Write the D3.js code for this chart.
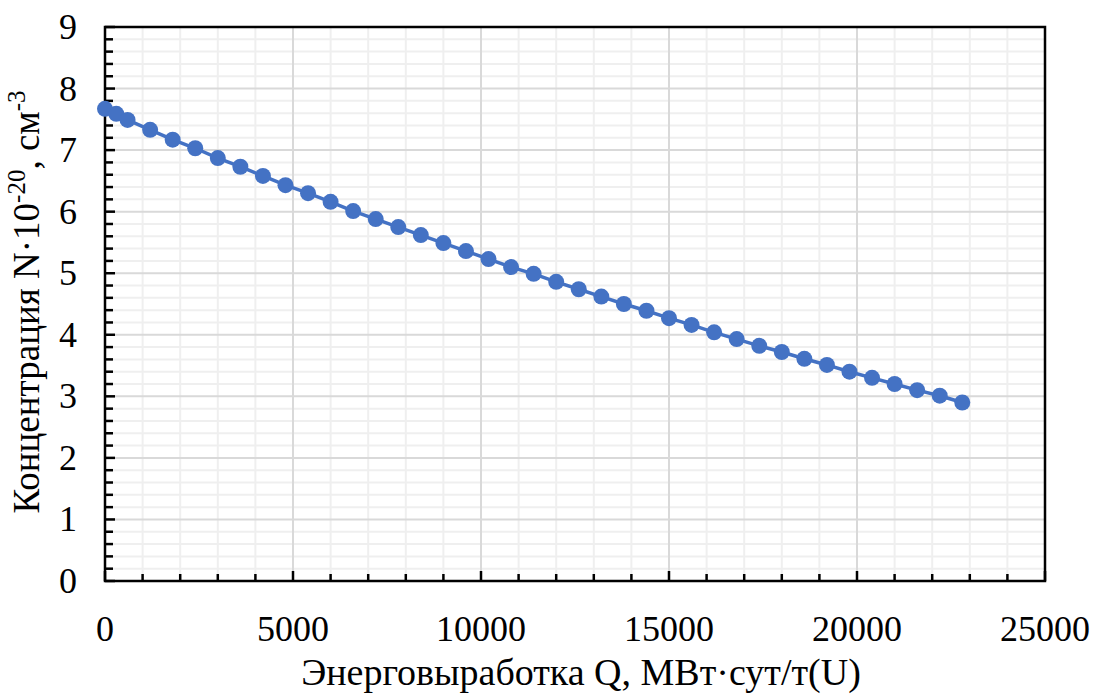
<!DOCTYPE html>
<html><head><meta charset="utf-8">
<script src="https://cdn.jsdelivr.net/npm/d3@7"></script>
<style>body{margin:0;background:#fff}svg{display:block}</style>
</head><body><svg id="c" width="1093" height="695"></svg>
<script>
const qValues = [0,300,600,1200,1800,2400,3000,3600,4200,4800,5400,6000,6600,7200,7800,8400,9000,9600,10200,10800,11400,12000,12600,13200,13800,14400,15000,15600,16200,16800,17400,18000,18600,19200,19800,20400,21000,21600,22200,22800];
const nValues = [7.67,7.59,7.49,7.33,7.17,7.03,6.87,6.73,6.58,6.43,6.30,6.16,6.01,5.88,5.75,5.62,5.49,5.36,5.23,5.10,4.99,4.86,4.74,4.62,4.50,4.39,4.27,4.16,4.04,3.93,3.82,3.72,3.61,3.51,3.40,3.30,3.20,3.10,3.01,2.90];
const xTicks = [0,5000,10000,15000,20000,25000];
const yTicks = [0,1,2,3,4,5,6,7,8,9];
const xTitle = "Энерговыработка Q, МВт·сут/т(U)";

const svg = d3.select("#c");
const L=105,R=1045,T=27,B=581;
const x = d3.scaleLinear().domain([0,25000]).range([L,R]);
const y = d3.scaleLinear().domain([0,9]).range([B,T]);
const xMinor = d3.range(0,25001,1000).filter(v=>v%5000!==0);
const yMinor = d3.range(0,45).map(i=>i*0.2).filter((v,i)=>i%5!==0);

const g = svg.append("g");
g.selectAll(".xm").data(xMinor).join("line").attr("x1",d=>x(d)).attr("x2",d=>x(d)).attr("y1",T).attr("y2",B).attr("stroke","#efefef").attr("stroke-width",2);
g.selectAll(".ym").data(yMinor).join("line").attr("y1",d=>y(d)).attr("y2",d=>y(d)).attr("x1",L).attr("x2",R).attr("stroke","#efefef").attr("stroke-width",2);
g.selectAll(".xM").data(xTicks).join("line").attr("x1",d=>x(d)).attr("x2",d=>x(d)).attr("y1",T).attr("y2",B).attr("stroke","#d9d9d9").attr("stroke-width",2);
g.selectAll(".yM").data(yTicks).join("line").attr("y1",d=>y(d)).attr("y2",d=>y(d)).attr("x1",L).attr("x2",R).attr("stroke","#d9d9d9").attr("stroke-width",2);

const tk = svg.append("g").attr("stroke","#000").attr("stroke-width",2.5);
tk.selectAll(".a").data(xMinor).join("line").attr("x1",d=>x(d)).attr("x2",d=>x(d)).attr("y1",B).attr("y2",B-7);
tk.selectAll(".b").data(xTicks).join("line").attr("x1",d=>x(d)).attr("x2",d=>x(d)).attr("y1",B).attr("y2",B-10);
tk.selectAll(".c").data(yMinor).join("line").attr("y1",d=>y(d)).attr("y2",d=>y(d)).attr("x1",L).attr("x2",L+8);
tk.selectAll(".d").data(yTicks).join("line").attr("y1",d=>y(d)).attr("y2",d=>y(d)).attr("x1",L).attr("x2",L+10);
svg.append("rect").attr("x",L).attr("y",T).attr("width",R-L).attr("height",B-T).attr("fill","none").attr("stroke","#000").attr("stroke-width",2.5);

const font = "'Liberation Serif','Times New Roman',serif";
svg.append("g").selectAll("text").data(xTicks).join("text").attr("x",d=>x(d)).attr("y",641).attr("text-anchor","middle")
  .attr("font-family",font).attr("font-size",36).attr("fill","#000").text(d=>d);
svg.append("g").selectAll("text").data(yTicks).join("text").attr("x",77).attr("y",d=>y(d)+12).attr("text-anchor","end")
  .attr("font-family",font).attr("font-size",36).attr("fill","#000").text(d=>d);
svg.append("text").attr("x",581).attr("y",685).attr("text-anchor","middle").attr("font-family",font).attr("font-size",38).attr("fill","#000").text(xTitle);
const yt = svg.append("text").attr("transform","translate(39,302) rotate(-90)").attr("text-anchor","middle").attr("font-family",font).attr("font-size",37).attr("fill","#000");
yt.append("tspan").text("Концентрация N·10");
yt.append("tspan").attr("dy",-14).attr("font-size",25).text("-20");
yt.append("tspan").attr("dy",14).text(", см");
yt.append("tspan").attr("dy",-14).attr("font-size",25).text("-3");

const data = qValues.map((q,i)=>({q,n:nValues[i]}));
svg.append("path").datum(data).attr("d",d3.line().x(d=>x(d.q)).y(d=>y(d.n))).attr("fill","none").attr("stroke","#4472C4").attr("stroke-width",3.5);
svg.append("g").selectAll("circle").data(data).join("circle").attr("cx",d=>x(d.q)).attr("cy",d=>y(d.n)).attr("r",8).attr("fill","#4472C4");
</script></body></html>
